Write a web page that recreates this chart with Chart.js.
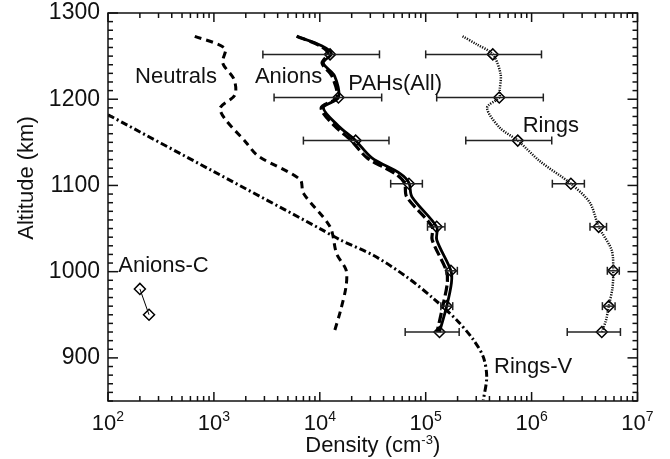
<!DOCTYPE html>
<html>
<head>
<meta charset="utf-8">
<title>Density profiles</title>
<script src="https://cdn.jsdelivr.net/npm/chart.js@4.4.1/dist/chart.umd.min.js"></script>
<style>
    body { margin: 0; background: #fff; }
    #chartArea { display: block; }
</style>
</head>
<body>
<canvas id="chartArea" width="670" height="459"></canvas>
<script>
// model profiles (altitude km, density cm-3)
var neutralsAlt = [1273, 1259, 1242, 1223, 1205, 1188, 1149, 1134, 1107, 1091, 1052, 1021, 1002, 983, 955, 930];
var neutralsDen = [660, 1270, 1210, 1550, 1580, 1140, 2040, 2630, 6500, 7000, 12500, 14400, 17700, 17700, 15700, 13700];

var anionsAlt = [1273, 1262, 1253, 1242, 1227, 1202, 1190, 1169, 1153, 1132, 1114, 1103, 1087, 1052, 1037, 1001, 987, 960, 930];
var anionsDen = [6050, 10000, 12000, 10500, 13000, 14500, 10300, 13800, 19500, 28000, 51000, 63000, 66000, 115000, 115000, 157000, 160000, 145000, 128000];

var pahAlt = [1273, 1262, 1253, 1242, 1227, 1202, 1190, 1169, 1153, 1132, 1114, 1103, 1087, 1052, 1037, 1001, 987, 960, 930];
var pahDen = [6050, 10400, 12900, 10800, 13800, 15000, 10800, 15000, 21400, 31000, 57000, 69500, 74000, 127000, 127000, 173000, 175000, 158000, 135000];

var ringsAlt = [1273, 1264, 1252, 1229, 1211, 1202, 1190, 1167, 1152, 1128, 1102, 1080, 1052, 1025, 1001, 981, 960, 944, 930];
var ringsDen = [2.23e5, 3.0e5, 4.3e5, 5.1e5, 5.0e5, 4.95e5, 3.8e5, 5.0e5, 7.4e5, 1.2e6, 2.35e6, 3.55e6, 4.3e6, 5.7e6, 5.9e6, 5.8e6, 5.35e6, 5.05e6, 4.6e6];

var ringsVAlt = [1182, 1116, 1050, 1037, 1019, 994, 969, 944, 921, 901, 878, 851];
var ringsVDen = [100, 1000, 10000, 15500, 32000, 66000, 118000, 196000, 282000, 350000, 377000, 350000];

// measured points with error bars
var obsAlt = [1252, 1202, 1152, 1102, 1052, 1001, 960, 930];
var pahObs = [12500, 15000, 21800, 69500, 127000, 173000, 158000, 135000];
var pahLow = [2900, 3700, 7000, 46700, 104000, 156000, 139000, 64000];
var pahHigh = [36600, 38400, 45000, 93000, 152000, 199000, 180000, 207000];
var ringsObs = [4.3e5, 4.95e5, 7.4e5, 2.35e6, 4.3e6, 5.9e6, 5.35e6, 4.6e6];
var ringsLow = [1.0e5, 1.27e5, 2.39e5, 1.57e6, 3.56e6, 5.19e6, 4.66e6, 2.17e6];
var ringsHigh = [1.24e6, 1.29e6, 1.55e6, 3.15e6, 5.1e6, 6.73e6, 6.14e6, 6.9e6];

var anionsCAlt = [980, 950];
var anionsCDen = [200, 244];

// curve labels, placed in data coordinates (left edge, baseline)
var labelText = ['Neutrals', 'Anions', 'PAHs(All)', 'Rings', 'Anions-C', 'Rings-V'];
var labelDen = [180, 2440, 18600, 824000, 125, 442000];
var labelAlt = [1219, 1219, 1210.5, 1162, 1000, 882.5];

var xMin = 1e2, xMax = 1e7, yMin = 850, yMax = 1300;
var FONT = '"Liberation Sans", Arial, Helvetica, sans-serif';

function toPoints(den, alt) {
    var pts = [];
    for (var i = 0; i < den.length; i++) {
        pts.push({ x: den[i], y: alt[i] });
    }
    return pts;
}

function curve(label, den, alt, dash, width, color) {
    return {
        label: label,
        data: toPoints(den, alt),
        showLine: true,
        borderColor: color || '#000',
        borderWidth: width,
        borderDash: dash,
        tension: 0.3,
        pointRadius: 0,
        fill: false
    };
}

function diamonds(label, den, alt, withLine) {
    return {
        label: label,
        data: toPoints(den, alt),
        showLine: withLine,
        borderColor: '#000',
        borderWidth: withLine ? 1 : 1.5,
        backgroundColor: 'rgba(0,0,0,0)',
        pointStyle: 'rectRot',
        pointRadius: 5.5,
        pointBorderWidth: 1.5,
        pointBorderColor: '#000',
        pointBackgroundColor: 'rgba(0,0,0,0)'
    };
}

function seg(c, x1, y1, x2, y2) {
    c.beginPath();
    c.moveTo(x1, y1);
    c.lineTo(x2, y2);
    c.stroke();
}

var errorBars = {
    id: 'errorBars',
    afterDatasetsDraw: function (chart) {
        var c = chart.ctx, xs = chart.scales.x, ys = chart.scales.y;
        var groups = [[pahLow, pahHigh], [ringsLow, ringsHigh]];
        c.save();
        c.strokeStyle = '#222';
        c.lineWidth = 1.5;
        for (var g = 0; g < groups.length; g++) {
            for (var i = 0; i < obsAlt.length; i++) {
                var py = ys.getPixelForValue(obsAlt[i]);
                var x1 = xs.getPixelForValue(groups[g][0][i]);
                var x2 = xs.getPixelForValue(groups[g][1][i]);
                seg(c, x1, py, x2, py);
                seg(c, x1, py - 4, x1, py + 4);
                seg(c, x2, py - 4, x2, py + 4);
            }
        }
        c.restore();
    }
};

var idlAxes = {
    id: 'idlAxes',
    afterDraw: function (chart) {
        var c = chart.ctx, a = chart.chartArea, xs = chart.scales.x, ys = chart.scales.y;
        var e, m, v, p, len;
        c.save();
        c.strokeStyle = '#111';
        c.lineWidth = 1.5;
        c.strokeRect(a.left, a.top, a.right - a.left, a.bottom - a.top);

        // log ticks, inward on bottom and top
        for (e = 2; e <= 7; e++) {
            for (m = 1; m <= 9; m++) {
                v = m * Math.pow(10, e);
                if (v > xMax) break;
                p = xs.getPixelForValue(v);
                len = m === 1 ? 9 : 5;
                seg(c, p, a.bottom, p, a.bottom - len);
                seg(c, p, a.top, p, a.top + len);
            }
        }
        // altitude ticks every 10 km, inward on left and right
        for (v = yMin; v <= yMax; v += 10) {
            p = ys.getPixelForValue(v);
            len = v % 100 === 0 ? 10 : 5;
            seg(c, a.left, p, a.left + len, p);
            seg(c, a.right, p, a.right - len, p);
        }

        c.fillStyle = '#111';
        // x tick labels 10^n
        for (e = 2; e <= 7; e++) {
            p = xs.getPixelForValue(Math.pow(10, e));
            c.font = '22px ' + FONT;
            var wb = c.measureText('10').width;
            c.font = '14px ' + FONT;
            var we = c.measureText(String(e)).width;
            var x0 = p - (wb + we) / 2;
            c.textAlign = 'left';
            c.textBaseline = 'alphabetic';
            c.font = '22px ' + FONT;
            c.fillText('10', x0, a.bottom + 29);
            c.font = '14px ' + FONT;
            c.fillText(String(e), x0 + wb, a.bottom + 20);
        }
        // y tick labels
        c.font = '23px ' + FONT;
        c.textAlign = 'right';
        c.textBaseline = 'middle';
        for (v = 900; v <= yMax; v += 100) {
            c.fillText(String(v), a.left - 8, ys.getPixelForValue(v));
        }

        // x title with superscript
        c.textAlign = 'left';
        c.textBaseline = 'alphabetic';
        var t1 = 'Density (cm', t2 = '-3', t3 = ')';
        c.font = '22px ' + FONT;
        var w1 = c.measureText(t1).width, w3 = c.measureText(t3).width;
        c.font = '13px ' + FONT;
        var w2 = c.measureText(t2).width;
        var tx = (a.left + a.right) / 2 - (w1 + w2 + w3) / 2;
        var ty = a.bottom + 51;
        c.font = '22px ' + FONT;
        c.fillText(t1, tx, ty);
        c.fillText(t3, tx + w1 + w2, ty);
        c.font = '13px ' + FONT;
        c.fillText(t2, tx + w1, ty - 8);

        // y title
        c.save();
        c.translate(a.left - 75, a.top + 165);
        c.rotate(-Math.PI / 2);
        c.font = '22px ' + FONT;
        c.textAlign = 'center';
        c.fillText('Altitude (km)', 0, 0);
        c.restore();

        // curve labels
        c.font = '22px ' + FONT;
        c.textAlign = 'left';
        for (var i = 0; i < labelText.length; i++) {
            c.fillText(labelText[i], xs.getPixelForValue(labelDen[i]), ys.getPixelForValue(labelAlt[i]));
        }
        c.restore();
    }
};

var config = {
    type: 'scatter',
    data: {
        datasets: [
            curve('Neutrals', neutralsDen, neutralsAlt, [7, 5], 3),
            curve('Rings-V', ringsVDen, ringsVAlt, [7, 3, 2, 3], 3),
            curve('Rings', ringsDen, ringsAlt, [1.2, 1.3], 2.5, '#111'),
            curve('Anions', anionsDen, anionsAlt, [10, 4], 3.2),
            curve('PAHs(All)', pahDen, pahAlt, [], 2.8),
            diamonds('PAHs obs', pahObs, obsAlt, false),
            diamonds('Rings obs', ringsObs, obsAlt, false),
            diamonds('Anions-C', anionsCDen, anionsCAlt, true)
        ]
    },
    options: {
        responsive: false,
        animation: false,
        layout: {
            padding: { left: 108, right: 32.5, top: 13, bottom: 58 }
        },
        plugins: {
            legend: { display: false },
            tooltip: { enabled: false }
        },
        scales: {
            x: { type: 'logarithmic', min: xMin, max: xMax, display: false },
            y: { type: 'linear', min: yMin, max: yMax, display: false }
        }
    },
    plugins: [errorBars, idlAxes]
};

var ctx = document.getElementById('chartArea').getContext('2d');
var myNewChart = new Chart(ctx, config);
</script>
</body>
</html>
